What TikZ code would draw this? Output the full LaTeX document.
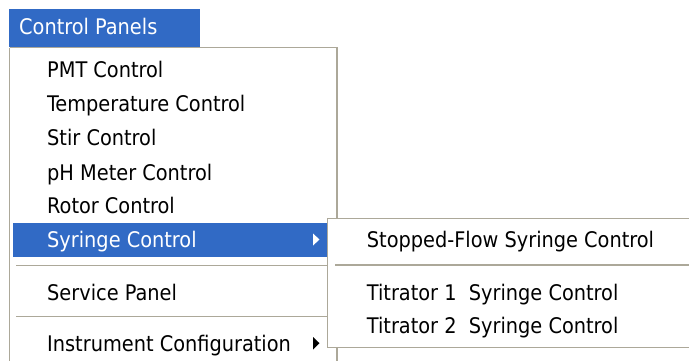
\documentclass[tikz,border=0pt]{standalone}
\usepackage{fontspec}
\setmainfont{DejaVu Sans Condensed}
\definecolor{xpblue}{HTML}{316AC5}
\definecolor{xpborder}{HTML}{ACA899}
\tikzset{
  item/.style={anchor=base west, inner sep=0pt, font=\fontsize{21.5}{25}\selectfont, text=black},
  itemsel/.style={item, text=white},
  menubox/.style={draw=xpborder, fill=white, line width=1.2pt},
  sep/.style={draw=xpborder, line width=1.2pt},
  tri/.style={fill=#1, draw=none}
}
\begin{document}
\begin{tikzpicture}[x=1pt,y=-1pt]
\useasboundingbox (0,0) rectangle (689,360);
\fill[white] (0,0) rectangle (689,360);
% title bar
\fill[xpblue] (9,9) rectangle (200,46.5);
\node[itemsel] (title) at (19,34.5) {Control Panels};
% main menu
\draw[menubox] (9.5,47.5) -- (337,47.5) -- (337,370) (9.5,47.5) -- (9.5,370);
\fill[xpblue] (13,223.3) rectangle (327,257.3);
\node[item] (pmt) at (47,77) {PMT Control};
\node[item] (temp) at (47,111.3) {Temperature Control};
\node[item] (stir) at (47,145.6) {Stir Control};
\node[item] (ph) at (47,180) {pH Meter Control};
\node[item] (rotor) at (47,213.5) {Rotor Control};
\node[itemsel] (syr) at (47,247) {Syringe Control};
\coordinate (sepA) at (16,265.7);
\coordinate (sepAe) at (333,265.7);
\draw[sep] (sepA) -- (sepAe);
\node[item] (serv) at (47,300) {Service Panel};
\coordinate (sepB) at (16,316.7);
\coordinate (sepBe) at (333,316.7);
\draw[sep] (sepB) -- (sepBe);
\node[item] (instr) at (47,351.7) {Instrument Configuration};
\fill[white] (313,233.5) -- (313,245.5) -- (319.5,239.5) -- cycle;
\fill[black] (313,337) -- (313,349.5) -- (319.5,343.2) -- cycle;
% submenu
\draw[menubox] (700,218.3) -- (327.3,218.3) -- (327.3,347.7) -- (700,347.7);
\node[item] (sf) at (366.7,247) {Stopped-Flow Syringe Control};
\coordinate (sepC) at (335,265);
\coordinate (sepCe) at (700,265);
\draw[sep] (sepC) -- (sepCe);
\node[item] (t1) at (366.7,300) {Titrator 1\ \ Syringe Control};
\node[item] (t2) at (366.7,333.3) {Titrator 2\ \ Syringe Control};
\end{tikzpicture}
\end{document}
